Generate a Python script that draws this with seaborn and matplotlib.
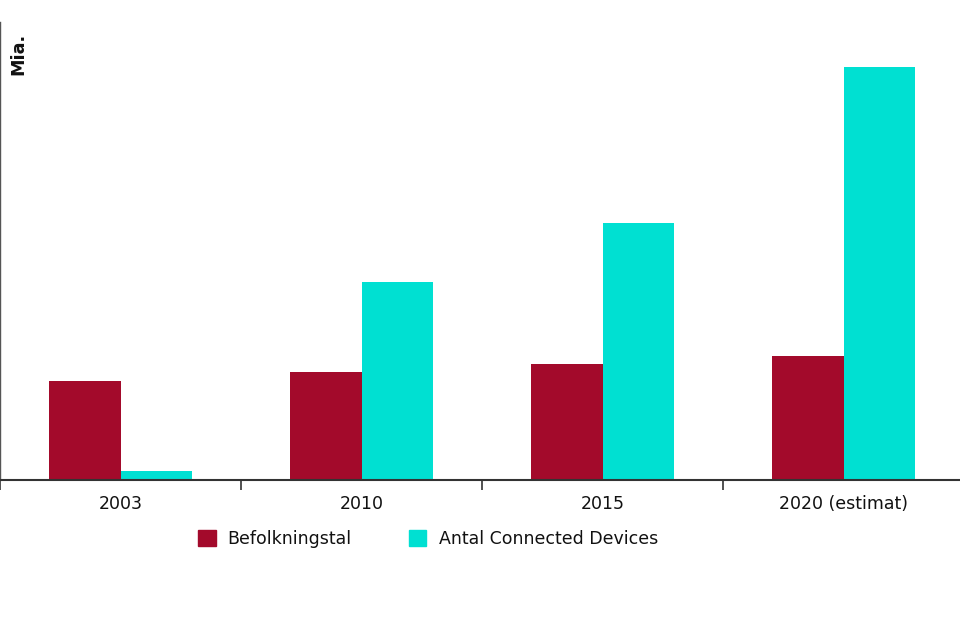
import numpy as np
import pandas as pd
import matplotlib
matplotlib.use("Agg")
import matplotlib.pyplot as plt
import seaborn as sns

# data (Mia.)
years = ["2003", "2010", "2015", "2020 (estimat)"]
befolkning = [6.35, 6.92, 7.44, 7.95]
devices = [0.58, 12.7, 16.5, 26.5]
series = ["Befolkningstal", "Antal Connected Devices"]
colors = ["#a30a2b", "#00e0d2"]

df = pd.DataFrame({
    "year": years * 2,
    "value": befolkning + devices,
    "serie": [series[0]] * 4 + [series[1]] * 4,
})

sns.set_style("white")
plt.rcParams["font.family"] = ["DejaVu Sans"]

fig = plt.figure(figsize=(9.6, 6.4), dpi=100)
ax = fig.add_axes([0.0, 0.25, 964 / 960, 458 / 640])

sns.barplot(data=df, x="year", y="value", hue="serie", palette=colors,
            width=0.593, saturation=1, linewidth=0, ax=ax, legend=False)

ax.set_xlim(-0.5, 3.5)
ax.set_ylim(0, 29.4)
ax.set_xlabel("")
ax.set_ylabel("")
ax.set_yticks([])

# group ticks at boundaries, labels at centers
ax.set_xticks(np.arange(-0.5, 4, 1.0))
ax.set_xticklabels([])
ax.set_xticks(range(len(years)), minor=True)
ax.set_xticklabels(years, minor=True, fontsize=12.5, color="#111111")
ax.tick_params(axis="x", which="major", direction="out", length=7, width=1.2,
               color="#333333", bottom=True)
ax.tick_params(axis="x", which="minor", length=0, pad=11)

for s in ["top", "right"]:
    ax.spines[s].set_visible(False)
ax.spines["left"].set_color("#555555")
ax.spines["left"].set_linewidth(1)
ax.spines["bottom"].set_color("#333333")
ax.spines["bottom"].set_linewidth(1.5)

fig.text(18.5 / 960, 1 - 33 / 640, "Mia.", rotation=90, va="top", ha="center",
         fontsize=12.7, fontweight="bold", color="#111111")

handles = [plt.Rectangle((0, 0), 1, 1, color=c) for c in colors]
fig.legend(handles, series, loc="center", bbox_to_anchor=(428 / 960, 1 - 539 / 640),
           ncol=2, frameon=False, prop={"size": 12.5}, labelcolor="#111111",
           handlelength=1.0, handleheight=1.0, handletextpad=0.7, columnspacing=3.3)

fig.savefig("out.png", dpi=100)
